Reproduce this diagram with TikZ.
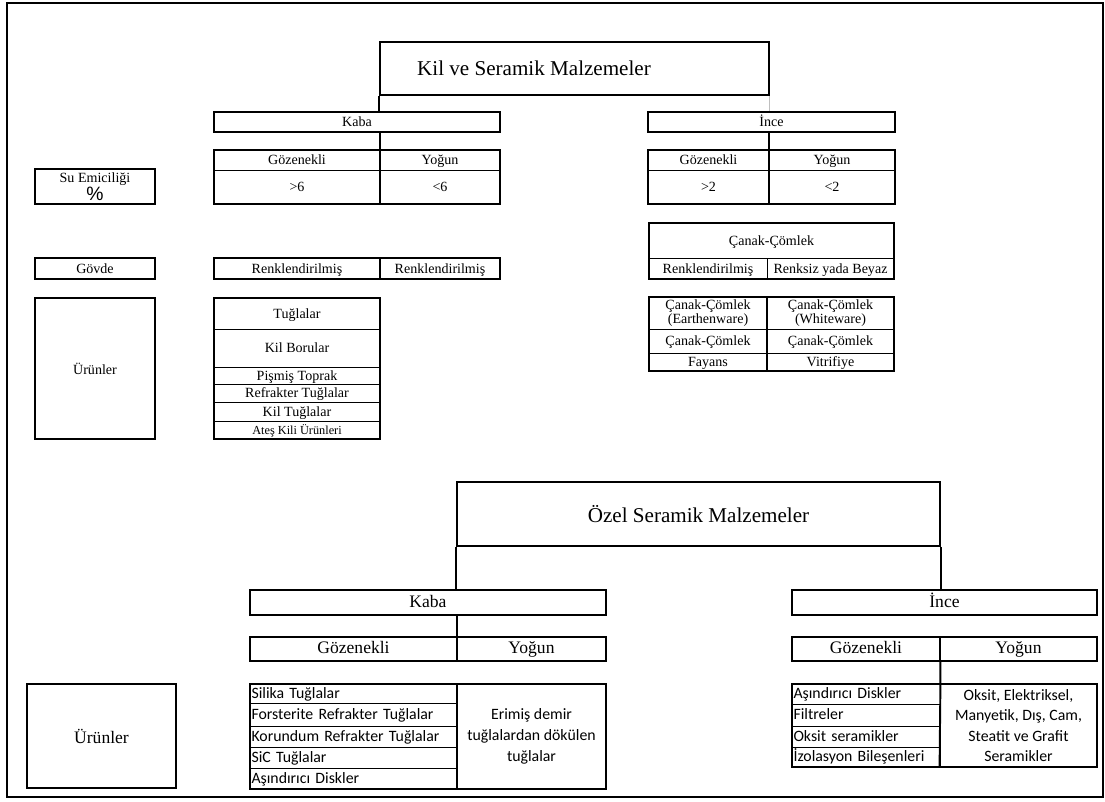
\documentclass[tikz,border=0pt]{standalone}
\usepackage{fontspec}
\setmainfont{Liberation Serif}
\newfontfamily\calfont{Carlito}
\newfontfamily\arialfont{Liberation Sans}
\usepackage{tikz}

\begin{document}
\begin{tikzpicture}[x=0.02cm, y=-0.02cm,
    line/.style={text height=1.6ex, text depth=0.45ex},
    box/.style={draw, line width=1.1pt, inner sep=0pt},
    cell/.style={draw, line width=0.5pt, inner sep=0pt, line, font=\fontsize{8}{9}\selectfont},
    twocell/.style={draw, line width=0.5pt, inner sep=0pt, align=center, font=\fontsize{8}{8}\selectfont},
    bigcell/.style={draw, line width=0.5pt, inner sep=0pt, line, font=\fontsize{10}{12}\selectfont},
    listcell/.style={draw, line width=0.5pt, inner xsep=0.03cm, inner ysep=0pt, line, align=left, font=\calfont\fontsize{9}{11}\selectfont},
    textcell/.style={draw, line width=0.5pt, inner sep=0pt, align=center},
    outline/.style={line width=1.1pt},
    link/.style={line width=1.1pt},
    frame/.style={line width=0.9pt}]
    \useasboundingbox (0,0) rectangle (1105,801);
    \draw[frame] (7,3) rectangle (1103,797);

    % Kil ve seramik malzemeler
    \node[box, minimum width=7.78cm, minimum height=1.06cm, label={[font=\fontsize{12}{14}\selectfont, xshift=-0.81cm]center:Kil ve Seramik Malzemeler}] (kil) at (574.5,68.5) {};
    \node[box, line, minimum width=5.72cm, minimum height=0.4cm, font=\fontsize{8}{9}\selectfont] (kaba1) at (357,122) {Kaba};
    \node[box, line, minimum width=4.94cm, minimum height=0.4cm, font=\fontsize{8}{9}\selectfont] (ince1) at (771.5,122) {İnce};
    \draw[link] (kil.south west) -- (kil.south west |- kaba1.north);
    \draw[line width=0.6pt, gray!50] (kil.south east) -- (kil.south east |- ince1.north);

    \node[cell, minimum width=3.32cm, minimum height=0.4cm] (kgoz1) at (297,160) {Gözenekli};
    \node[cell, minimum width=2.4cm, minimum height=0.4cm] (kyog1) at (440,160) {Yoğun};
    \node[cell, minimum width=3.32cm, minimum height=0.68cm] (kgt) at (297,187) {>6};
    \node[cell, minimum width=2.4cm, minimum height=0.68cm] (klt) at (440,187) {<6};
    \draw[outline] (kgoz1.north west) rectangle (klt.south east);
    \draw[link] (kgoz1.north east |- kaba1.south) -- (kgoz1.north east) -- (kgt.south east);

    \node[cell, minimum width=2.42cm, minimum height=0.4cm] (igoz1) at (708.5,160) {Gözenekli};
    \node[cell, minimum width=2.52cm, minimum height=0.4cm] (iyog1) at (832,160) {Yoğun};
    \node[cell, minimum width=2.42cm, minimum height=0.68cm] (igt) at (708.5,187) {>2};
    \node[cell, minimum width=2.52cm, minimum height=0.68cm] (ilt) at (832,187) {<2};
    \draw[outline] (igoz1.north west) rectangle (ilt.south east);
    \draw[link] (igoz1.north east |- ince1.south) -- (igoz1.north east) -- (igt.south east);

    \node[box, minimum width=2.4cm, minimum height=0.7cm, align=center, font=\fontsize{8}{8.5}\selectfont] (su) at (95,186.5) {Su Emiciliği\\{\arialfont\fontsize{11}{10}\selectfont\%}};
    \node[box, line, minimum width=2.4cm, minimum height=0.42cm, font=\fontsize{8}{9}\selectfont] (govde) at (95,268.5) {Gövde};
    \node[box, minimum width=2.4cm, minimum height=2.82cm, font=\fontsize{8}{9}\selectfont] (urun1) at (95,368.5) {Ürünler};

    \node[cell, minimum width=3.32cm, minimum height=0.42cm] (rk1) at (297,268.5) {Renklendirilmiş};
    \node[cell, minimum width=2.4cm, minimum height=0.42cm] (rk2) at (440,268.5) {Renklendirilmiş};
    \draw[outline] (rk1.north west) rectangle (rk2.south east);
    \draw[outline] (rk1.north east) -- (rk1.south east);

    \node[cell, minimum width=3.32cm, minimum height=0.62cm] (t1) at (297,313.5) {Tuğlalar};
    \node[cell, minimum width=3.32cm, minimum height=0.76cm] (t2) at (297,348) {Kil Borular};
    \node[cell, minimum width=3.32cm, minimum height=0.34cm] (t3) at (297,375.5) {Pişmiş Toprak};
    \node[cell, minimum width=3.32cm, minimum height=0.36cm] (t4) at (297,393) {Refrakter Tuğlalar};
    \node[cell, minimum width=3.32cm, minimum height=0.38cm] (t5) at (297,411.5) {Kil Tuğlalar};
    \node[cell, minimum width=3.32cm, minimum height=0.36cm, font=\fontsize{7}{8}\selectfont] (t6) at (297,430) {Ateş Kili Ürünleri};
    \draw[outline] (t1.north west) rectangle (t6.south east);

    % canak-comlek
    \node[cell, minimum width=4.9cm, minimum height=0.7cm] (cc) at (771.5,240.5) {Çanak-Çömlek};
    \node[cell, minimum width=2.36cm, minimum height=0.42cm] (cr1) at (708,268.5) {Renklendirilmiş};
    \node[cell, minimum width=2.54cm, minimum height=0.42cm] (cr2) at (830.5,268.5) {Renksiz yada Beyaz};
    \draw[outline] (cc.north west) rectangle (cr2.south east);

    \node[twocell, minimum width=2.36cm, minimum height=0.64cm] (p11) at (708,313) {Çanak-Çömlek\\(Earthenware)};
    \node[twocell, minimum width=2.54cm, minimum height=0.64cm] (p12) at (830.5,313) {Çanak-Çömlek\\(Whiteware)};
    \node[cell, minimum width=2.36cm, minimum height=0.48cm] (p21) at (708,341) {Çanak-Çömlek};
    \node[cell, minimum width=2.54cm, minimum height=0.48cm] (p22) at (830.5,341) {Çanak-Çömlek};
    \node[cell, minimum width=2.36cm, minimum height=0.36cm] (p31) at (708,362) {Fayans};
    \node[cell, minimum width=2.54cm, minimum height=0.36cm] (p32) at (830.5,362) {Vitrifiye};
    \draw[outline] (p11.north west) rectangle (p32.south east);
    \draw[outline] (p11.north east) -- (p31.south east);

    % ozel seramik malzemeler
    \node[box, minimum width=9.66cm, minimum height=1.28cm, font=\fontsize{12}{14}\selectfont] (ozel) at (698.5,514) {Özel Seramik Malzemeler};
    \node[box, line, minimum width=7.12cm, minimum height=0.5cm, font=\fontsize{10}{12}\selectfont] (kaba2) at (428,602.5) {Kaba};
    \node[box, line, minimum width=6.1cm, minimum height=0.5cm, font=\fontsize{10}{12}\selectfont] (ince2) at (944.5,602.5) {İnce};
    \draw[link] (ozel.south west) -- (ozel.south west |- kaba2.north);
    \draw[link] (ozel.south east) -- (ozel.south east |- ince2.north);

    \node[bigcell, minimum width=4.14cm, minimum height=0.48cm] (kgoz2) at (353.5,649) {Gözenekli};
    \node[bigcell, minimum width=2.98cm, minimum height=0.48cm] (kyog2) at (531.5,649) {Yoğun};
    \draw[outline] (kgoz2.north west) rectangle (kyog2.south east);
    \draw[link] (kgoz2.north east |- kaba2.south) -- (kgoz2.north east) -- (kgoz2.south east);

    \node[bigcell, minimum width=2.96cm, minimum height=0.48cm] (igoz2) at (866,649) {Gözenekli};
    \node[bigcell, minimum width=3.14cm, minimum height=0.48cm] (iyog2) at (1018.5,649) {Yoğun};
    \draw[outline] (igoz2.north west) rectangle (iyog2.south east);
    \draw[outline] (igoz2.north east) -- (igoz2.south east);

    \node[box, minimum width=2.98cm, minimum height=2.08cm, font=\fontsize{10}{12}\selectfont] (urun2) at (101.5,736) {Ürünler};

    \node[listcell, text width=4.08cm, minimum height=0.38cm] (s1) at (353.5,693.5) {Silika Tuğlalar};
    \node[listcell, text width=4.08cm, minimum height=0.46cm] (s2) at (353.5,714.5) {Forsterite Refrakter Tuğlalar};
    \node[listcell, text width=4.08cm, minimum height=0.42cm] (s3) at (353.5,736.5) {Korundum Refrakter Tuğlalar};
    \node[listcell, text width=4.08cm, minimum height=0.42cm] (s4) at (353.5,757.5) {SiC Tuğlalar};
    \node[listcell, text width=4.08cm, minimum height=0.42cm] (s5) at (353.5,778.5) {Aşındırıcı Diskler};
    \node[textcell, minimum width=2.98cm, minimum height=2.1cm, font=\calfont\fontsize{9}{12}\selectfont] (erimis) at (531.5,736.5) {Erimiş demir\\tuğlalardan dökülen\\tuğlalar};
    \draw[outline] (s1.north west) rectangle (erimis.south east);
    \draw[outline] (erimis.north west) -- (erimis.south west);

    \node[listcell, text width=2.9cm, minimum height=0.4cm] (a1) at (866,694) {Aşındırıcı Diskler};
    \node[listcell, text width=2.9cm, minimum height=0.44cm] (a2) at (866,715) {Filtreler};
    \node[listcell, text width=2.9cm, minimum height=0.42cm] (a3) at (866,736.5) {Oksit seramikler};
    \node[listcell, text width=2.9cm, minimum height=0.4cm] (a4) at (866,757) {İzolasyon Bileşenleri};
    \node[textcell, minimum width=3.14cm, minimum height=1.66cm, font=\calfont\fontsize{9}{11.6}\selectfont] (oksit) at (1018.5,725.5) {Oksit, Elektriksel,\\Manyetik, Dış, Cam,\\Steatit ve Grafit\\Seramikler};
    \draw[outline] (a1.north west) rectangle (oksit.south east);
    \draw[link] (igoz2.south east) -- (igoz2.south east |- a1.north) -- (oksit.south west);
\end{tikzpicture}
\end{document}
